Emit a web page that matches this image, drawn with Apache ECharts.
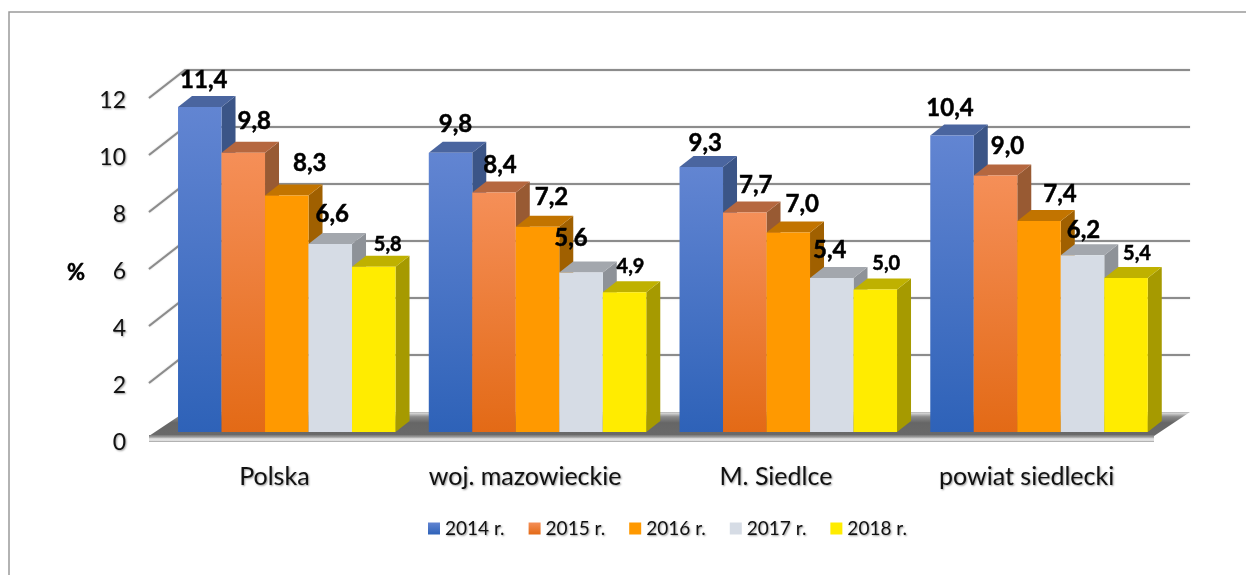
<!DOCTYPE html>
<html>
<head>
<meta charset="utf-8">
<style>html,body{margin:0;padding:0;background:#fff}#c{width:1246px;height:575px}</style>
<script src="https://cdn.jsdelivr.net/npm/echarts@6/dist/echarts.min.js"></script>
</head>
<body>
<div id="c"></div>
<script>
var categories = ['Polska', 'woj. mazowieckie', 'M. Siedlce', 'powiat siedlecki'];
var years = ['2014 r.', '2015 r.', '2016 r.', '2017 r.', '2018 r.'];
var v2014 = [11.4, 9.8, 9.3, 10.4];
var v2015 = [9.8, 8.4, 7.7, 9.0];
var v2016 = [8.3, 7.2, 7.0, 7.4];
var v2017 = [6.6, 5.6, 5.4, 6.2];
var v2018 = [5.8, 4.9, 5.0, 5.4];
var yTicks = [0, 2, 4, 6, 8, 10, 12];

// label nudges from bar-top centre, per series / category
var nudge = [
  [[4,-27],[5,-28],[4,-24],[-2,-27]],
  [[11,-31],[6,-27],[11,-27],[12,-29]],
  [[23,-32],[14,-30],[14,-28],[21,-27]],
  [[2,-30],[-10,-34],[-2,-28],[1,-25]],
  [[14,-22],[6,-26],[11,-26],[11,-25]]
];
function vg(a, b) {
  return {type:'linear', x:0, y:0, x2:0, y2:1, colorStops:[{offset:0,color:a},{offset:1,color:b}]};
}
var styles = [
  {front: vg('#6285d2','#2e62b8'), top:'#4a659f', side:'#3b5587'},
  {front: vg('#f58f58','#e36a16'), top:'#b5673f', side:'#985a33'},
  {front: '#ff9900', top:'#c27400', side:'#a06000'},
  {front: '#d6dce5', top:'#a3a7ad', side:'#8e9298'},
  {front: '#ffec00', top:'#bfb100', side:'#a69a00'}
];
var WALL_DX = 36, WALL_DY = 28;   // wall depth
var WALL_EXTRA = 2;               // wall and floor run slightly past the last band
var BAR_DX = 12.4, BAR_DY = 8;    // bars stand inside the floor
var BAR_W = 43.5, DEPTH_X = 14, DEPTH_Y = 11;
var FONT = 'Lato, Carlito, "Noto Sans", sans-serif';

function poly(pts, fill) {
  return {type:'polygon', shape:{points:pts}, style:{fill:fill}};
}
function renderWall(params, api) {
  var v = api.value(0);
  var cs = params.coordSys;
  var y = api.coord([0, v])[1];
  var x0 = cs.x, x1 = cs.x + cs.width + WALL_EXTRA;
  var kids = [];
  if (v === 0) {
    kids.push(poly([[x0,y-4],[x1,y-4],[x1+WALL_DX,y-WALL_DY],[x0+WALL_DX,y-WALL_DY]],
      {type:'linear', x:0, y:0, x2:0, y2:1, colorStops:[
        {offset:0,color:'#b4b4b4'},{offset:0.06,color:'#d0d0d0'},{offset:0.2,color:'#8a8a8a'},
        {offset:0.45,color:'#666666'},{offset:1,color:'#6a6a6a'}]}));
    kids.push({type:'rect', shape:{x:x0,y:y-5,width:x1-x0,height:7},
      style:{fill:{type:'linear', x:0, y:0, x2:0, y2:1, colorStops:[
        {offset:0,color:'#777777'},{offset:0.3,color:'#a0a0a0'},{offset:0.55,color:'#e4e4e4'},
        {offset:0.8,color:'#dddddd'},{offset:1,color:'#9a9a9a'}]}}});
  } else {
    kids.push({type:'polyline', shape:{points:[[x0,y],[x0+WALL_DX,y-WALL_DY],[x1+WALL_DX,y-WALL_DY]]},
      style:{fill:null, stroke:'#8c8c8c', lineWidth:2, shadowBlur:1.5, shadowColor:'rgba(0,0,0,0.25)'}});
  }
  return {type:'group', children:kids};
}
function makeRender(si) {
  return function (params, api) {
    var i = api.value(0), val = api.value(1);
    var top = api.coord([i, val]);
    var base = api.coord([i, 0]);
    var x = top[0] + BAR_DX + (si - 2.5) * BAR_W;
    var yT = top[1] - BAR_DY, yB = base[1] - BAR_DY;
    var x2 = x + BAR_W, s = styles[si];
    var n = nudge[si][i];
    return {type:'group', children:[
      poly([[x2,yT],[x2+DEPTH_X,yT-DEPTH_Y],[x2+DEPTH_X,yB-DEPTH_Y],[x2,yB]], s.side),
      poly([[x,yT],[x+DEPTH_X,yT-DEPTH_Y],[x2+DEPTH_X,yT-DEPTH_Y],[x2,yT]], s.top),
      {type:'rect', shape:{x:x,y:yT,width:BAR_W,height:yB-yT}, style:{fill:s.front}},
      {type:'text', x:x+BAR_W/2+n[0], y:yT+n[1], z2:50, style:{
        text: val.toFixed(1).replace('.', ','),
        fontFamily:FONT, fontWeight:'bold', fontSize: si === 4 ? 20 : 24,
        fill:'#000', stroke:'#000', lineWidth:0.5, align:'center', verticalAlign:'middle'}}
    ]};
  };
}
var seriesValues = [v2014, v2015, v2016, v2017, v2018];
var shadow = {textShadowColor:'rgba(0,0,0,0.4)', textShadowBlur:2, textShadowOffsetX:1, textShadowOffsetY:1};
var series = [{
  type:'custom', name:'wall', coordinateSystem:'cartesian2d', clip:false, silent:true,
  encode:{y:0}, data: yTicks.map(function (t) { return [t]; }), renderItem: renderWall
}];
seriesValues.forEach(function (vals, si) {
  series.push({
    type:'custom', name:years[si], coordinateSystem:'cartesian2d', clip:false,
    encode:{x:0, y:1},
    itemStyle:{color: styles[si].front},
    data: vals.map(function (v, i) { return [i, v]; }),
    renderItem: makeRender(si)
  });
});
var chart = echarts.init(document.getElementById('c'), null, {renderer:'canvas'});
chart.setOption({
  animation:false,
  backgroundColor:'#ffffff',
  grid:{left:149, top:98, width:1003, height:342, containLabel:false},
  legend:{
    data: years.map(function (y) { return {name:y, icon:'rect'}; }),
    left:428, top:519, padding:0, itemWidth:12, itemHeight:12, itemGap:24, selectedMode:false,
    textStyle: Object.assign({fontFamily:FONT, fontSize:19, color:'#111'}, shadow)
  },
  xAxis:{type:'category', data:categories,
    axisLine:{show:false}, axisTick:{show:false},
    axisLabel: Object.assign({margin:24, fontFamily:FONT, fontSize:25, color:'#111'}, shadow)},
  yAxis:{type:'value', min:0, max:12, interval:2,
    name:'{p|%}', nameLocation:'middle', nameRotate:0, nameGap:64,
    nameTextStyle:{rich:{p:{fontFamily:FONT, fontWeight:'bold', fontSize:22, color:'#000',
      textBorderColor:'#000', textBorderWidth:0.5, padding:[8,0,0,0]}}},
    axisLine:{show:false}, axisTick:{show:false}, splitLine:{show:false},
    axisLabel:{margin:23, formatter:'{t|{value}}',
      rich:{t:Object.assign({fontFamily:FONT, fontSize:23, color:'#111', padding:[6,0,0,0]}, shadow)}}},
  graphic:[{type:'polyline', silent:true, shape:{points:[[9,575],[9,12],[1246,12]]},
    style:{fill:null, stroke:'#9a9a9a', lineWidth:1.5}}],
  series: series
});
</script>
</body>
</html>
